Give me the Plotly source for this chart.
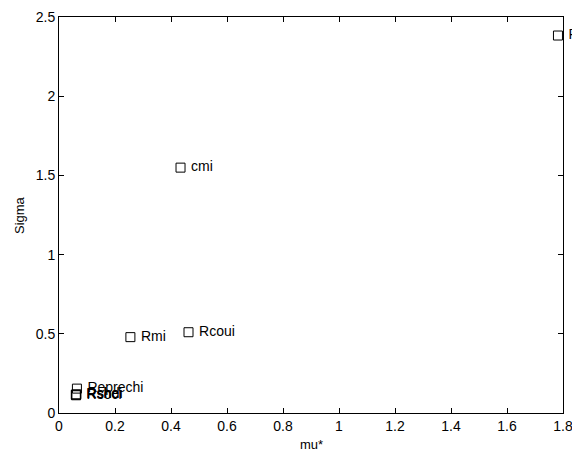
import plotly.graph_objects as go

labels = ["Rcmi", "cmi", "Rmi", "Rcoui", "Reprechi", "Rshei", "Rshdi", "Rsoci"]
mu_star = [1.782, 0.434, 0.255, 0.4625, 0.064, 0.060, 0.062, 0.061]
sigma = [2.383, 1.549, 0.479, 0.51, 0.154, 0.115, 0.118, 0.112]

FONT = "Liberation Sans, Arial, sans-serif"

fig = go.Figure()
fig.add_trace(go.Scatter(
    x=mu_star, y=sigma, mode="markers+text", text=[" " + t for t in labels],
    textposition="middle right",
    marker=dict(symbol="square-open", size=9, color="black", line=dict(width=1)),
    textfont=dict(family=FONT, size=14, color="black"),
    cliponaxis=False, showlegend=False,
))

axis_common = dict(
    showgrid=False, zeroline=False, showline=True, linecolor="black", linewidth=1,
    mirror="ticks", ticks="inside", ticklen=5, tickcolor="black", tickwidth=1,
    tickfont=dict(family=FONT, size=14, color="black"), automargin=False,
    ticklabeloverflow="allow",
)

fig.update_layout(
    width=572, height=455,
    margin=dict(l=59, r=9, t=17, b=42, autoexpand=False),
    paper_bgcolor="white", plot_bgcolor="white",
    xaxis=dict(range=[0, 1.8], tickvals=[0, 0.2, 0.4, 0.6, 0.8, 1, 1.2, 1.4, 1.6, 1.8],
               ticktext=["0", "0.2", "0.4", "0.6", "0.8", "1", "1.2", "1.4", "1.6", "1.8"],
               **axis_common),
    yaxis=dict(range=[0, 2.5], tickvals=[0, 0.5, 1, 1.5, 2, 2.5],
               ticktext=["0", "0.5", "1", "1.5", "2", "2.5"],
               **axis_common),
    annotations=[
        dict(text="mu*", x=0.5, y=0, xref="paper", yref="paper", yshift=-31,
             xanchor="center", yanchor="middle", showarrow=False,
             font=dict(family=FONT, size=13, color="black")),
        dict(text="Sigma", x=0, y=0.5, xref="paper", yref="paper", xshift=-40,
             xanchor="center", yanchor="middle", showarrow=False, textangle=-90,
             font=dict(family=FONT, size=13, color="black")),
    ],
)

fig.write_html("out.html", config={"displayModeBar": False},
               post_script="document.body.style.margin='0';document.body.style.overflow='hidden';")
